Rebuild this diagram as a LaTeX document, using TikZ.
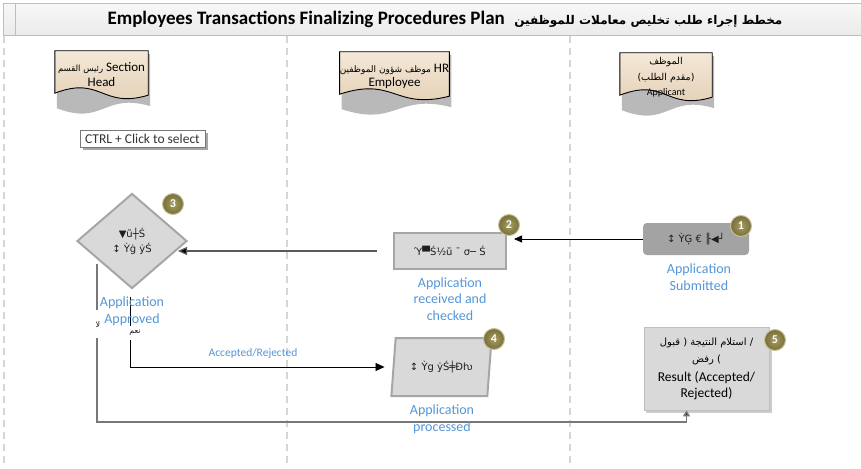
\documentclass[tikz,border=0pt]{standalone}
\usepackage{fontspec}
\setmainfont{Carlito}
\newfontfamily\arabicfont[Script=Arabic]{DejaVu Sans}
\newfontfamily\symfont{DejaVu Sans}
\TeXXeTstate=1
\usetikzlibrary{shapes.geometric,arrows.meta,calc,backgrounds}
\newcommand\artxt[1]{{\arabicfont\beginR #1\endR}}
\newcommand\fsz[1]{\fontsize{#1}{#1}\selectfont}
\definecolor{lanec}{RGB}{214,214,214}
\definecolor{barline}{RGB}{190,190,190}
\definecolor{tantop}{RGB}{244,232,216}
\definecolor{tanbot}{RGB}{226,206,178}
\definecolor{procfill}{RGB}{217,217,217}
\definecolor{procline}{RGB}{166,166,166}
\definecolor{darkproc}{RGB}{163,163,163}
\definecolor{bluetxt}{RGB}{84,150,214}
\definecolor{badgein}{RGB}{168,158,98}
\definecolor{badgeout}{RGB}{118,110,58}
\definecolor{badgerim}{RGB}{200,194,150}
\definecolor{grayline}{RGB}{120,120,120}
\definecolor{darkline}{RGB}{89,89,89}
\definecolor{txtc}{RGB}{30,30,30}
\tikzset{
  lane/.style={draw=lanec,line width=1.3pt,dash pattern=on 7pt off 5pt},
  hdr/.style={minimum height=48,inner sep=0pt,align=center,text=black,font=\fsz{13}},
  proc/.style={draw=procline,line width=2pt,fill=procfill,inner sep=0pt,align=center,text=txtc,font=\symfont\fsz{10}},
  badge/.style={circle,minimum size=21,inner sep=0pt,inner color=badgein,outer color=badgeout,draw=badgerim,line width=1pt,text=white,font=\bfseries\fsz{12}},
  bluelbl/.style={text=bluetxt,align=center,font=\fontsize{14}{16.5}\selectfont,inner sep=0pt},
  thinarrow/.style={draw=black,line width=0.8pt,-{Triangle[length=8pt,width=7pt]}},
  grayarrow/.style={draw=darkline,line width=1.2pt,-{Triangle[length=9pt,width=8pt,fill=black]}},
  yesline/.style={draw=black,line width=0.8pt,-{Triangle[length=9pt,width=8pt]}},
  noline/.style={draw=grayline,line width=1.8pt,-{Triangle[length=6pt,width=7pt,fill=black]}},
  tinylbl/.style={fill=white,inner sep=0pt,text=txtc,font=\arabicfont\fsz{8}},
}
\begin{document}
\begin{tikzpicture}[x=1pt,y=-1pt]
\useasboundingbox (0,0) rectangle (861,468);
% title bar
\node[draw=barline,top color=white!97!black,bottom color=white!92!black,line width=0.8pt,minimum width=858,minimum height=32,anchor=north west,inner sep=0pt] (bar) at (3,3) {};
\draw[barline,line width=0.8pt] (15,3) -- (15,35);
\node[font=\bfseries\fsz{19},text=black,inner sep=0pt] (ttl) at (445,19)
  {Employees Transactions Finalizing Procedures Plan\enspace{\arabicfont\bfseries\fsz{12}\beginR مخطط إجراء طلب تخليص معاملات للموظفين\endR}};
% lanes
\draw[lane] (4,36) -- (4,468);
\draw[lane] (287,36) -- (287,468);
\draw[lane] (570,36) -- (570,468);
% headers
\node[hdr,minimum width=93] (h1) at (101.5,75)
  {{\arabicfont\fsz{8.5}\beginR رئيس القسم\endR}\ Section\\[2pt]Head};
\node[hdr,minimum width=91] (h2) at (394.5,76)
  {{\arabicfont\fsz{9}\beginR موظف شؤون الموظفين\endR}\ HR\\[1pt]Employee};
\node[hdr,minimum width=92] (h3) at (666,77)
  {\artxt{\fsz{9.5}الموظف}\\[3pt]\artxt{\fsz{9.5}(مقدم الطلب)}\\[2pt]{\fsz{10}Applicant}};
\begin{scope}[on background layer]
\foreach \n in {h1,h2,h3}{
  \fill[black!50,opacity=.55] ([shift={(2,3)}]\n.north west) -- ([shift={(2,3)}]\n.north east) -- ([shift={(2,7)}]\n.south east)
     .. controls ([shift={(2,-7)}]\n.south) and ([shift={(2,27)}]\n.south) .. ([shift={(2,9)}]\n.south west) -- cycle;
  \draw[black,line width=0.9pt,top color=tantop,bottom color=tanbot] (\n.north west) -- (\n.north east) -- ([yshift=4pt]\n.south east)
     .. controls ([yshift=-10pt]\n.south) and ([yshift=24pt]\n.south) .. ([yshift=6pt]\n.south west) -- cycle;
}
\end{scope}
% ctrl box
\fill[black!35] (83,133) rectangle (208,150);
\node[draw=grayline,fill=white,line width=0.8pt,minimum width=125,minimum height=17,inner sep=0pt,text=black!80,font=\fsz{13.5}] (ctrl) at (142.5,138.5) {CTRL + Click to select};
% process nodes
\node[proc,draw=darkproc,fill=darkproc,rounded corners=3pt,minimum width=104,minimum height=30] (n1) at (696,239) {↕ ỲĢ € ╟◀┘};
\node[proc,minimum width=112,minimum height=36] (n2) at (450,251) {Ύ▀Ś½ŭ ˉ σ─ Ś};
\node[proc,diamond,minimum width=110,minimum height=95] (d3) at (132,241) {▼ŭ┼Ś\\[2pt]↕ Ỳġ ẏŚ};
\node[proc,trapezium,trapezium left angle=76,trapezium right angle=104,trapezium stretches=true,minimum width=101,minimum height=58] (n4) at (441.5,367) {↕ Ỳg ẏŚ╪Ðƕ};
\fill[black!20] (646,330) rectangle (772,413);
\node[draw=black!25,fill=procfill,line width=0.8pt,minimum width=125,minimum height=83,inner sep=0pt,align=center,text=black,font=\fontsize{13.5}{16}\selectfont] (n5) at (706.5,368.5)
  {{\arabicfont\fsz{10}\beginR استلام النتيجة ( قبول\endR{} /}\\[1pt]{\arabicfont\fsz{10}\beginR رفض\endR{} )}\\[3pt]Result (Accepted/\\Rejected)};
% badges
\node[badge] (b1) at (741,226) {1};
\node[badge] (b2) at (509,225) {2};
\node[badge] (b3) at (173,204) {3};
\node[badge] (b4) at (494,339) {4};
\node[badge] (b5) at (775,340) {5};
% connectors
\draw[thinarrow,shorten >=7pt] (n1.west) -- (n1.west -| n2.east);
\draw[grayarrow,shorten <=16pt] (n2.west) -- ([xshift=46pt]d3.center |- n2.west);
\draw[yesline,shorten >=8pt] ($(d3.south)+(-2,7)$) |- (n4.west);
\draw[noline] ($(d3.west)+(21,23)$) -- ++(0,158) -| ([xshift=-20pt]n5.south);
% small labels
\node[tinylbl,minimum height=28,minimum width=7] (no) at (98,324) {لا};
\node[tinylbl,minimum height=14,minimum width=14] (yes) at (135,333) {نعم};
\node[text=bluetxt,font=\fsz{11.5},inner sep=0pt] (acc) at (253,353) {Accepted/Rejected};
% blue labels
\node[bluelbl] (l1) at (699,277) {Application\\Submitted};
\node[bluelbl] (l2) at (450,299) {Application\\received and\\checked};
\node[bluelbl] (l3) at (132,311.5) {Application\\Approved};
\node[bluelbl] (l4) at (442,419.5) {Application\\processed};
\end{tikzpicture}
\end{document}
